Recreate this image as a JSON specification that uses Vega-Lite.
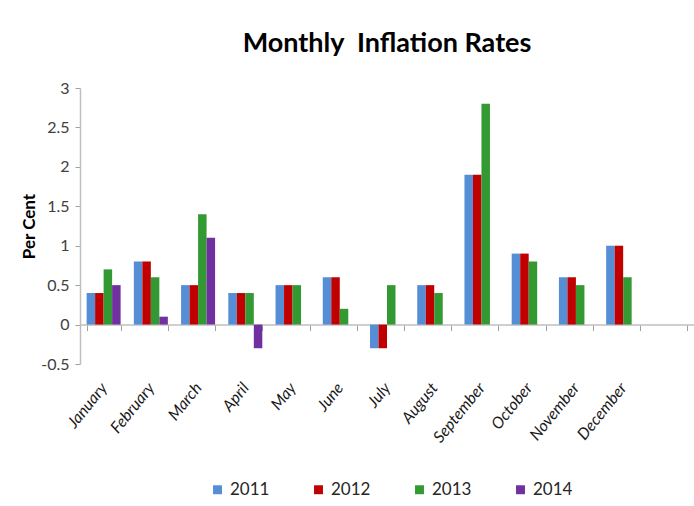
{
  "$schema": "https://vega.github.io/schema/vega-lite/v6.json",
  "width": 614,
  "height": 276,
  "autosize": {"type": "none"},
  "padding": {"left": 80, "top": 88, "right": 0, "bottom": 142},
  "background": "white",
  "title": {"text": "Monthly\u00a0 Inflation Rates", "font": "Lato", "fontSize": 27, "fontWeight": "bold", "color": "black", "anchor": "middle", "offset": 22},
  "data": {"values": [
    {"month": "January", "year": "2011", "value": 0.4},
    {"month": "January", "year": "2012", "value": 0.4},
    {"month": "January", "year": "2013", "value": 0.7},
    {"month": "January", "year": "2014", "value": 0.5},
    {"month": "February", "year": "2011", "value": 0.8},
    {"month": "February", "year": "2012", "value": 0.8},
    {"month": "February", "year": "2013", "value": 0.6},
    {"month": "February", "year": "2014", "value": 0.1},
    {"month": "March", "year": "2011", "value": 0.5},
    {"month": "March", "year": "2012", "value": 0.5},
    {"month": "March", "year": "2013", "value": 1.4},
    {"month": "March", "year": "2014", "value": 1.1},
    {"month": "April", "year": "2011", "value": 0.4},
    {"month": "April", "year": "2012", "value": 0.4},
    {"month": "April", "year": "2013", "value": 0.4},
    {"month": "April", "year": "2014", "value": -0.3},
    {"month": "May", "year": "2011", "value": 0.5},
    {"month": "May", "year": "2012", "value": 0.5},
    {"month": "May", "year": "2013", "value": 0.5},
    {"month": "June", "year": "2011", "value": 0.6},
    {"month": "June", "year": "2012", "value": 0.6},
    {"month": "June", "year": "2013", "value": 0.2},
    {"month": "July", "year": "2011", "value": -0.3},
    {"month": "July", "year": "2012", "value": -0.3},
    {"month": "July", "year": "2013", "value": 0.5},
    {"month": "August", "year": "2011", "value": 0.5},
    {"month": "August", "year": "2012", "value": 0.5},
    {"month": "August", "year": "2013", "value": 0.4},
    {"month": "September", "year": "2011", "value": 1.9},
    {"month": "September", "year": "2012", "value": 1.9},
    {"month": "September", "year": "2013", "value": 2.8},
    {"month": "October", "year": "2011", "value": 0.9},
    {"month": "October", "year": "2012", "value": 0.9},
    {"month": "October", "year": "2013", "value": 0.8},
    {"month": "November", "year": "2011", "value": 0.6},
    {"month": "November", "year": "2012", "value": 0.6},
    {"month": "November", "year": "2013", "value": 0.5},
    {"month": "December", "year": "2011", "value": 1.0},
    {"month": "December", "year": "2012", "value": 1.0},
    {"month": "December", "year": "2013", "value": 0.6}
  ]},
  "mark": {"type": "bar"},
  "encoding": {
    "x": {
      "field": "month",
      "type": "nominal",
      "scale": {
        "domain": ["January", "February", "March", "April", "May", "June", "July", "August", "September", "October", "November", "December", " "],
        "paddingInner": 0.28,
        "paddingOuter": 0.14
      },
      "axis": {
        "title": null,
        "labelAngle": -51,
        "labelFont": "Lato",
        "labelFontStyle": "italic",
        "labelFontSize": 16,
        "labelColor": "#1a1a1a",
        "offset": -39.4,
        "domainColor": "#BFBFBF",
        "domainWidth": 1.5,
        "tickBand": "extent",
        "tickColor": "#A0A0A0",
        "tickSize": 6,
        "labelPadding": 54
      }
    },
    "xOffset": {"field": "year", "type": "nominal", "scale": {"domain": ["2011", "2012", "2013", "2014"]}},
    "y": {
      "field": "value",
      "type": "quantitative",
      "scale": {"domain": [-0.5, 3], "nice": false, "zero": false},
      "axis": {
        "title": "Per Cent",
        "values": [-0.5, 0, 0.5, 1, 1.5, 2, 2.5, 3],
        "labelExpr": "toString(datum.value)",
        "grid": false,
        "labelFont": "Lato",
        "labelFontSize": 16,
        "labelColor": "#404040",
        "domainColor": "#BFBFBF",
        "domainWidth": 1.5,
        "tickColor": "#A0A0A0",
        "tickSize": 5,
        "labelPadding": 6,
        "titleFont": "Lato",
        "titleFontSize": 17,
        "titleFontWeight": "bold",
        "titleColor": "black",
        "titlePadding": 2
      }
    },
    "color": {
      "field": "year",
      "type": "nominal",
      "scale": {"domain": ["2011", "2012", "2013", "2014"], "range": ["#558ED5", "#C00000", "#339933", "#7030A0"]},
      "legend": {
        "orient": "none",
        "legendX": 129,
        "legendY": 393,
        "direction": "horizontal",
        "title": null,
        "symbolType": "square",
        "symbolSize": 80,
        "symbolStrokeWidth": 0,
        "labelFont": "Lato",
        "labelFontSize": 17,
        "labelColor": "#262626",
        "labelOffset": 4,
        "columnPadding": 40
      }
    }
  },
  "config": {"view": {"stroke": null}}
}
